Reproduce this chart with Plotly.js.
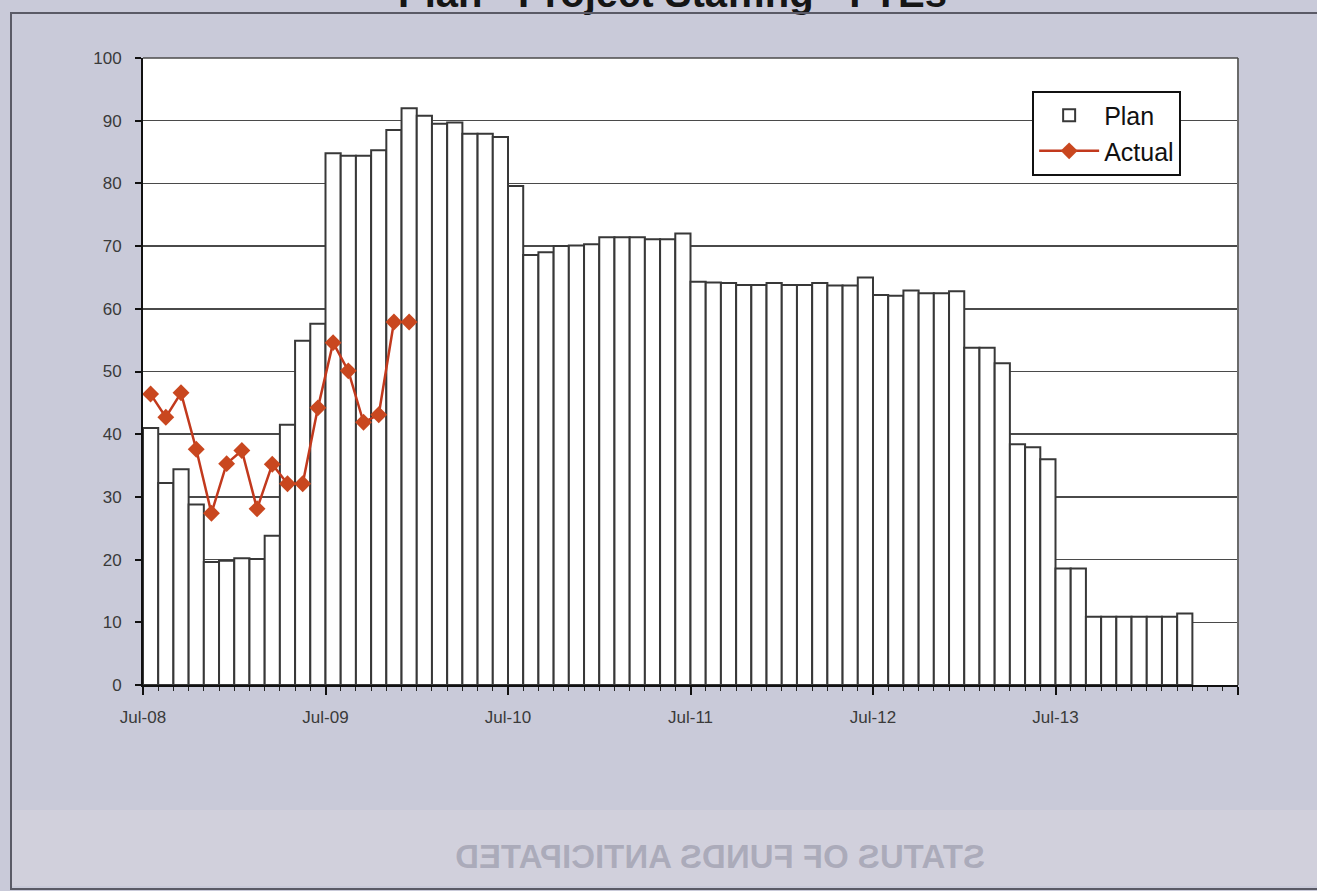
<!DOCTYPE html>
<html>
<head>
<meta charset="utf-8">
<script src="https://cdn.plot.ly/plotly-3.0.1.min.js"></script>
<style>
  html, body { margin:0; padding:0; background:#c9cad9; width:1317px; height:891px; overflow:hidden; }
  #chart { position:absolute; left:0; top:0; width:1317px; height:891px; }
  #band { position:absolute; left:12px; top:810px; width:1305px; height:76px; background:#d1d0dc; }
  #frame { position:absolute; left:10px; top:12px; width:1320px; height:874px; border:2px solid #5a5a66; pointer-events:none; }
  #ghost { position:absolute; left:400px; top:838px; width:640px; text-align:center;
           font-family:"Liberation Sans", Arial, sans-serif; font-weight:bold; font-size:33px;
           color:rgba(110,110,130,0.38); transform:scaleX(-1); white-space:nowrap; }
</style>
</head>
<body>
<div id="band"></div>
<div id="chart"></div>
<div id="frame"></div>
<div id="ghost">STATUS OF FUNDS ANTICIPATED</div>
<script>
// Monthly categories (Jul-08 .. Mar-14)
const months = [
  'Jul-08','Aug-08','Sep-08','Oct-08','Nov-08','Dec-08','Jan-09','Feb-09','Mar-09','Apr-09','May-09','Jun-09',
  'Jul-09','Aug-09','Sep-09','Oct-09','Nov-09','Dec-09','Jan-10','Feb-10','Mar-10','Apr-10','May-10','Jun-10',
  'Jul-10','Aug-10','Sep-10','Oct-10','Nov-10','Dec-10','Jan-11','Feb-11','Mar-11','Apr-11','May-11','Jun-11',
  'Jul-11','Aug-11','Sep-11','Oct-11','Nov-11','Dec-11','Jan-12','Feb-12','Mar-12','Apr-12','May-12','Jun-12',
  'Jul-12','Aug-12','Sep-12','Oct-12','Nov-12','Dec-12','Jan-13','Feb-13','Mar-13','Apr-13','May-13','Jun-13',
  'Jul-13','Aug-13','Sep-13','Oct-13','Nov-13','Dec-13','Jan-14','Feb-14','Mar-14'
];

// Plan FTEs (bars)
const plan = [
  41.0, 32.2, 34.4, 28.8, 19.6, 19.8, 20.2, 20.1, 23.8, 41.5, 54.9, 57.6,
  84.8, 84.4, 84.4, 85.3, 88.5, 92.0, 90.8, 89.5, 89.7, 87.9, 87.9, 87.4,
  79.6, 68.6, 69.0, 70.0, 70.1, 70.3, 71.4, 71.4, 71.4, 71.1, 71.1, 72.0,
  64.3, 64.2, 64.1, 63.8, 63.8, 64.1, 63.8, 63.8, 64.1, 63.7, 63.7, 65.0,
  62.2, 62.1, 62.9, 62.5, 62.5, 62.8, 53.8, 53.8, 51.3, 38.4, 37.9, 36.0,
  18.6, 18.6, 10.9, 10.9, 10.9, 10.9, 10.9, 10.9, 11.4
];

// Actual FTEs (line), Jul-08 .. Dec-09
const actual = [
  46.4, 42.7, 46.6, 37.6, 27.4, 35.3, 37.4, 28.1, 35.2, 32.1, 32.1, 44.2,
  54.6, 50.1, 41.9, 43.1, 57.9, 57.9
];

// Axis tick labels (one per July)
const tickLabels = ['Jul-08','Jul-09','Jul-10','Jul-11','Jul-12','Jul-13',''];
const tickMonths = ['Jul-08','Jul-09','Jul-10','Jul-11','Jul-12','Jul-13'];

const titleText = 'Plan - Project Staffing - FTEs';

const monthIndex = months.map((m, i) => i);
const tickVals = tickMonths.map(m => months.indexOf(m)).concat([72]);

const FONT = '"Liberation Sans", Arial, sans-serif';

const traces = [
  {
    type: 'bar',
    name: 'Plan',
    x: monthIndex,
    y: plan,
    offset: 0,
    width: 1,
    marker: { color: '#ffffff', line: { color: '#383838', width: 2 } },
    hoverinfo: 'skip'
  },
  {
    type: 'scatter',
    mode: 'lines+markers',
    name: 'Actual',
    x: actual.map((v, i) => i + 0.5),
    y: actual,
    line: { color: '#c2391d', width: 2.5 },
    marker: { symbol: 'diamond', size: 13, color: '#c9471f' },
    hoverinfo: 'skip'
  }
];

const layout = {
  width: 1317,
  height: 891,
  margin: { l: 143, r: 79, t: 58, b: 206 },
  paper_bgcolor: 'rgba(0,0,0,0)',
  plot_bgcolor: '#ffffff',
  showlegend: true,
  bargap: 0,
  font: { family: FONT, color: '#333333', size: 17 },
  xaxis: {
    range: [0, 72],
    tickmode: 'array',
    tickvals: tickVals,
    ticktext: tickLabels,
    ticks: 'outside',
    ticklen: 8,
    tickwidth: 2,
    tickcolor: '#111111',
    showline: true,
    linecolor: '#111111',
    linewidth: 2,
    showgrid: false,
    zeroline: false,
    ticklabelstandoff: 8,
    tickfont: { family: FONT, size: 17, color: '#3a3a3a' },
    minor: { tickmode: 'linear', tick0: 0, dtick: 1, ticks: 'outside', ticklen: 4, tickcolor: '#222222', tickwidth: 1, showgrid: false },
    fixedrange: true
  },
  yaxis: {
    range: [0, 100],
    dtick: 10,
    ticks: 'outside',
    ticklen: 6,
    tickwidth: 2,
    tickcolor: '#111111',
    showline: true,
    linecolor: '#111111',
    linewidth: 2,
    showgrid: true,
    gridcolor: '#4a4a4a',
    gridwidth: 1.5,
    zeroline: false,
    ticklabelstandoff: 10,
    tickfont: { family: FONT, size: 17, color: '#3a3a3a' },
    fixedrange: true
  },
  legend: {
    x: 0.812, y: 0.948, xanchor: 'left', yanchor: 'top',
    bgcolor: '#ffffff',
    bordercolor: '#111111',
    borderwidth: 2,
    font: { family: FONT, size: 25, color: '#111111' },
    tracegroupgap: 0,
    itemwidth: 60
  },
  shapes: [
    { type: 'line', xref: 'paper', yref: 'paper', x0: 1, x1: 1, y0: 0, y1: 1, line: { color: '#6a6a6a', width: 2 } },
    { type: 'line', xref: 'paper', yref: 'paper', x0: 0, x1: 1, y0: 1, y1: 1, line: { color: '#4a4a4a', width: 1.5 } }
  ],
  annotations: [
    {
      text: '<b>' + titleText + '</b>',
      xref: 'paper', yref: 'paper',
      x: (672 - 143) / 1095, y: (685 + 7) / 627,
      xanchor: 'center', yanchor: 'middle',
      showarrow: false,
      font: { family: FONT, size: 40, color: '#151515' }
    }
  ]
};

Plotly.newPlot('chart', traces, layout, { staticPlot: true, displayModeBar: false });
</script>
</body>
</html>
